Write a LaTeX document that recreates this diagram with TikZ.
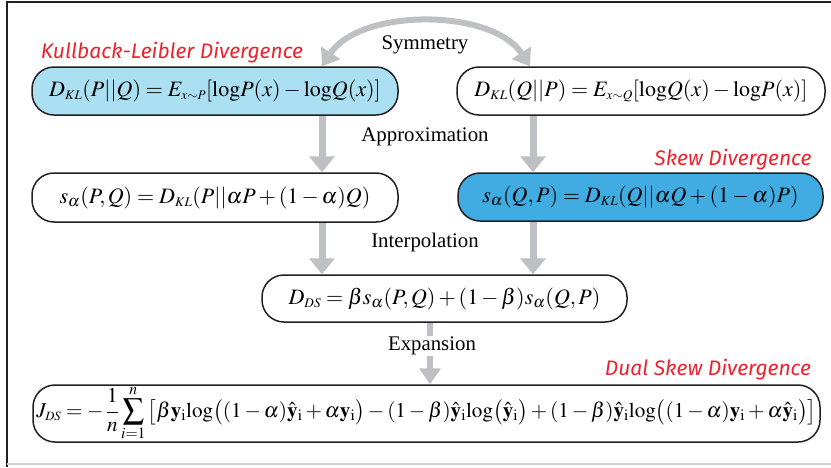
\documentclass[tikz,border=0pt]{standalone}
\usepackage{mathptmx}
\usepackage{amsmath}
\usepackage{fontspec}
\setmainfont{Liberation Serif}
\newfontfamily\handfont{Fira Sans}
\usetikzlibrary{arrows.meta}
\definecolor{lightblue}{RGB}{171,223,242}
\definecolor{skewblue}{RGB}{64,172,226}
\definecolor{arrgray}{RGB}{190,192,196}
\definecolor{boxline}{RGB}{35,31,32}
\definecolor{hand}{RGB}{238,34,46}
\begin{document}
\begin{tikzpicture}[x=1pt,y=-1pt,
  fbox/.style={draw=boxline, line width=1.5pt, rounded corners=22pt, inner sep=0pt,
    font=\fontsize{22}{26}\selectfont},
  arr/.style={draw=arrgray, line width=7pt, -{Triangle[width=25pt,length=16pt]}},
  arrthin/.style={draw=arrgray, line width=5.5pt, -{Triangle[width=21pt,length=16pt]}},
  symarr/.style={draw=arrgray, line width=6pt, {Triangle[width=22pt,length=16pt]}-{Triangle[width=22pt,length=16pt]}},
  lbl/.style={font=\fontsize{20.8}{25}\selectfont, inner sep=1pt},
  redlbl/.style={text=hand, font=\handfont\itshape\fontsize{21}{25}\selectfont, inner sep=0pt}
]
\useasboundingbox (0,0) rectangle (831,467);
% frame
\draw[boxline, line width=2pt] (7,467) -- (7,2) -- (831,2);
\draw[arrgray!70, line width=1.5pt] (7,464) -- (831,464);

% boxes
\node[fbox, fill=lightblue, minimum width=366pt, minimum height=48pt] (kl1) at (215,91)
  {$D_{\scriptscriptstyle KL}(P||Q)=E_{\scriptscriptstyle x\sim P}[\mathrm{log}P(x)-\mathrm{log}Q(x)]$};
\node[fbox, minimum width=368pt, minimum height=48pt] (kl2) at (641,91)
  {$D_{\scriptscriptstyle KL}(Q||P)=E_{\scriptscriptstyle x\sim Q}[\mathrm{log}Q(x)-\mathrm{log}P(x)]$};
\node[fbox, minimum width=366pt, minimum height=49pt] (s1) at (215,197.5)
  {$s_\alpha(P,Q)=D_{\scriptscriptstyle KL}(P||\alpha P+(1-\alpha)Q)$};
\node[fbox, fill=skewblue, minimum width=365pt, minimum height=48pt] (s2) at (640.5,197)
  {$s_\alpha(Q,P)=D_{\scriptscriptstyle KL}(Q||\alpha Q+(1-\alpha)P)$};
\node[fbox, minimum width=365pt, minimum height=47pt] (ds) at (444.5,298.5)
  {$D_{\scriptscriptstyle DS}=\beta s_\alpha(P,Q)+(1-\beta)s_\alpha(Q,P)$};
\node[fbox, minimum width=787pt, minimum height=57pt] (j) at (426.5,413.5)
  {\resizebox{780pt}{!}{$\displaystyle J_{\scriptscriptstyle DS}=-\,\frac{1}{n}\sum_{i=1}^{n}\big[\beta\mathbf{y}_\mathrm{i}\mathrm{log}\big((1-\alpha)\hat{\mathbf{y}}_\mathrm{i}+\alpha\mathbf{y}_\mathrm{i}\big)-(1-\beta)\hat{\mathbf{y}}_\mathrm{i}\mathrm{log}\big(\hat{\mathbf{y}}_\mathrm{i}\big)+(1-\beta)\hat{\mathbf{y}}_\mathrm{i}\mathrm{log}\big((1-\alpha)\mathbf{y}_\mathrm{i}+\alpha\hat{\mathbf{y}}_\mathrm{i}\big)\big]$}};

% red labels
\node[redlbl] (klname) at (172,53) {Kullback-Leibler Divergence};
\node[redlbl] (skewname) at (733,160) {Skew Divergence};
\node[redlbl] (dualname) at (708,370) {Dual Skew Divergence};

% x positions
\coordinate (xl) at (322,0);
\coordinate (xr) at (533,0);
\coordinate (xsl) at (322,0);
\coordinate (xsr) at (530,0);
\coordinate (xe) at (430,0);

% symmetry arc
\draw[symarr] (kl1.north -| xsl) .. controls (360,8) and (492,8) .. (kl2.north -| xsr);
\node[lbl] (sym) at (425,45) {Symmetry};

% approximation arrows
\draw[arr] (kl1.south -| xl) -- (s1.north -| xl);
\draw[arr] (kl2.south -| xr) -- (s2.north -| xr);
\node[lbl] (approx) at (425,137) {Approximation};

% interpolation arrows
\draw[arr] (s1.south -| xl) -- (ds.north -| xl);
\draw[arr] (s2.south -| xr) -- (ds.north -| xr);
\node[lbl] (interp) at (425,242) {Interpolation};

% expansion arrow
\draw[arrthin] (ds.south -| xe) -- (j.north -| xe);
\node[lbl, fill=white] (exp) at (432,346) {Expansion};
\end{tikzpicture}
\end{document}
